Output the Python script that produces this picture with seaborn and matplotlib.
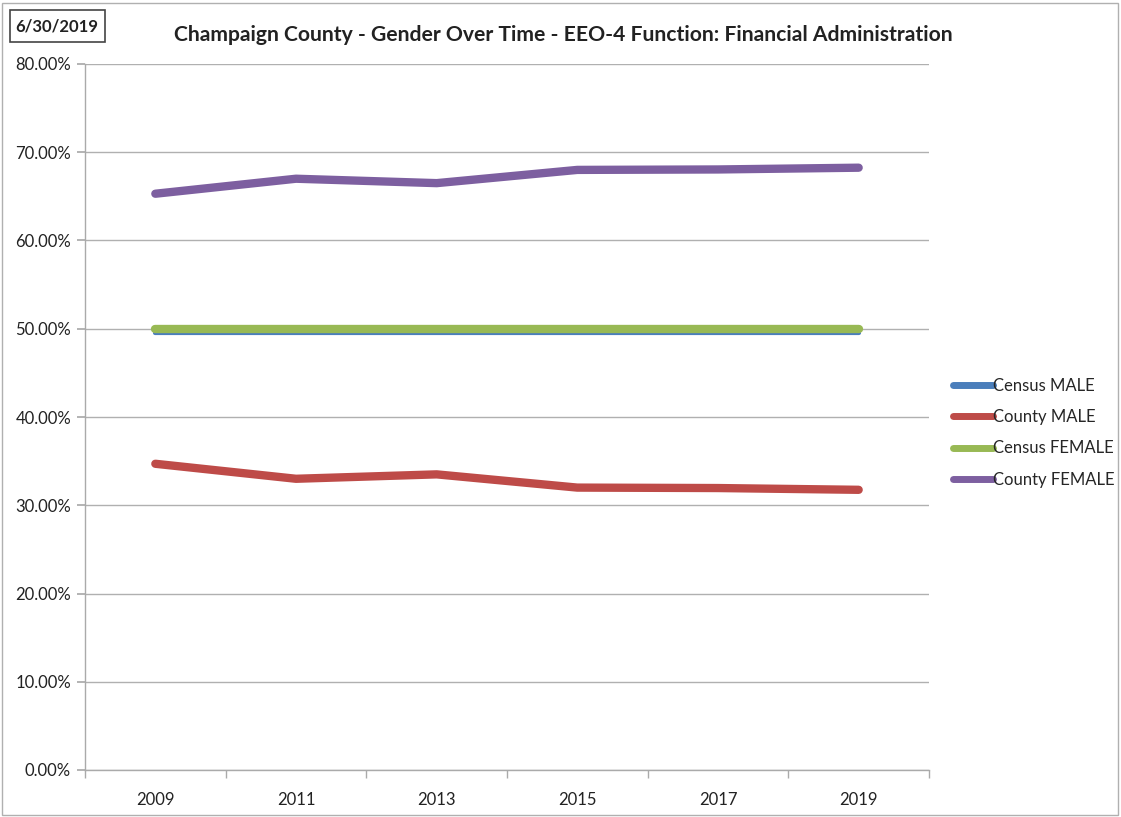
import matplotlib
matplotlib.use("Agg")
import matplotlib.pyplot as plt
import seaborn as sns
import pandas as pd
from matplotlib.patches import Rectangle
from matplotlib.ticker import FuncFormatter, MultipleLocator

years = ["2009", "2011", "2013", "2015", "2017", "2019"]
census_male = [49.5, 49.5, 49.5, 49.5, 49.5, 49.5]
county_male = [34.7, 33.0, 33.5, 32.0, 31.95, 31.75]
census_female = [50.0, 50.0, 50.0, 50.0, 50.0, 50.0]
county_female = [65.3, 67.0, 66.5, 68.0, 68.05, 68.25]

series_names = ["Census MALE", "County MALE", "Census FEMALE", "County FEMALE"]
series_values = [census_male, county_male, census_female, county_female]
colors = ["#4a7ebb", "#be4b48", "#98b954", "#7d5fa0"]
widths = [3.0, 6.0, 6.0, 6.0]

rows = []
for name, vals in zip(series_names, series_values):
    for i, (y, v) in enumerate(zip(years, vals)):
        rows.append({"pos": i, "year": y, "value": v, "series": name})
df = pd.DataFrame(rows)

sns.set_theme(style="white")
plt.rcParams["font.family"] = ["Lato", "DejaVu Sans"]

fig = plt.figure(figsize=(11.21, 8.17), dpi=100)
ax = fig.add_axes([85 / 1121, 1 - 770 / 817, (929 - 85) / 1121, (770 - 64) / 817])

draw_order = ["Census MALE", "Census FEMALE", "County MALE", "County FEMALE"]
zorders = {"Census MALE": 3, "Census FEMALE": 4, "County MALE": 5, "County FEMALE": 5}
for name in draw_order:
    idx = series_names.index(name)
    sub = df[df["series"] == name]
    sns.lineplot(data=sub, x="pos", y="value", ax=ax, color=colors[idx],
                 linewidth=widths[idx], solid_capstyle="round",
                 solid_joinstyle="round", zorder=zorders[name], legend=False)

ax.set_xlim(-0.5, len(years) - 0.5)
ax.set_ylim(0, 80)
ax.yaxis.set_major_locator(MultipleLocator(10))
ax.yaxis.set_major_formatter(FuncFormatter(lambda v, p: f"{v:.2f}%"))
ax.set_xticks(range(len(years)))
ax.set_xticklabels(years)
ax.set_xticks([i - 0.5 for i in range(len(years) + 1)], minor=True)
ax.tick_params(axis="x", which="major", length=0, pad=16, labelsize=12, colors="#222222")
ax.tick_params(axis="x", which="minor", length=6, color="#aaaaaa", direction="out", bottom=True)
ax.tick_params(axis="y", which="major", length=6, color="#aaaaaa", direction="out", left=True,
               labelsize=12, colors="#222222", pad=4)
ax.set_xlabel("")
ax.set_ylabel("")
ax.grid(axis="y", color="#b0b0b0", linewidth=1.0)
ax.set_axisbelow(True)
for s in ["top", "right"]:
    ax.spines[s].set_visible(False)
for s in ["left", "bottom"]:
    ax.spines[s].set_color("#aaaaaa")
    ax.spines[s].set_linewidth(1.0)

handles = [plt.Line2D([], [], color=c, linewidth=5, solid_capstyle="round") for c in colors]
fig.legend(handles, series_names, loc="upper left", bbox_to_anchor=(946 / 1121, 1 - 371 / 817),
           frameon=False, fontsize=12, handlelength=2.4, handletextpad=0.0,
           labelspacing=0.92, borderaxespad=0)

fig.text(563 / 1121, 1 - 35 / 817, "Champaign County - Gender Over Time - EEO-4 Function: Financial Administration",
         ha="center", va="center", fontsize=15.2, fontweight="bold", color="#222222")

fig.text(57 / 1121, 1 - 26 / 817, "6/30/2019", ha="center", va="center", fontsize=12,
         fontweight="bold", color="#222222")
fig.patches.append(Rectangle((10 / 1121, 1 - 42 / 817), 95 / 1121, 32 / 817,
                             transform=fig.transFigure, fill=False, edgecolor="#444444", linewidth=1.2))
fig.patches.append(Rectangle((2 / 1121, 2 / 817), 1116 / 1121, 812 / 817,
                             transform=fig.transFigure, fill=False, edgecolor="#b0b0b0", linewidth=1.0))

fig.savefig("out.png", dpi=100)
